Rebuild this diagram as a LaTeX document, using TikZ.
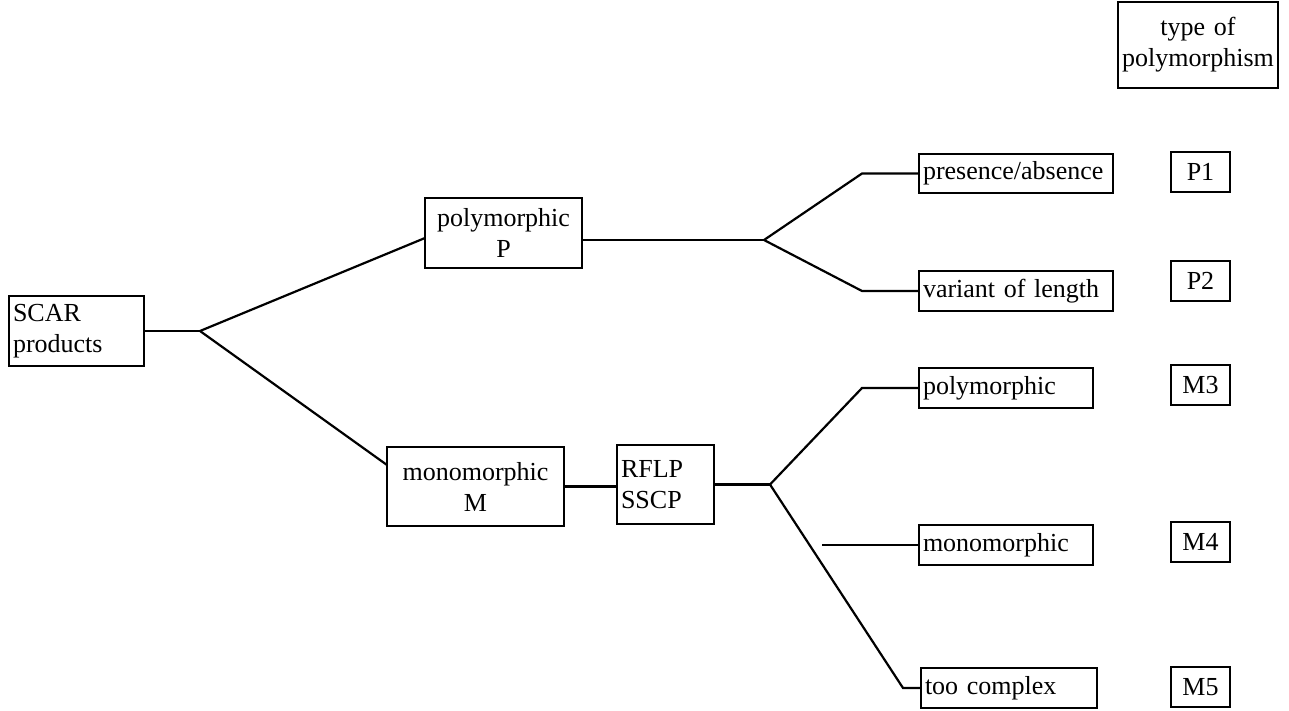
\documentclass[tikz,border=0pt]{standalone}
\usepackage{fontspec}
\setmainfont{Liberation Serif}
\begin{document}
\begin{tikzpicture}[x=1pt,y=-1pt,
  box/.style={draw, line width=1.5pt, inner xsep=4pt, inner ysep=0pt, font=\fontsize{26}{31}\selectfont},
  conn/.style={line width=2.2pt, line join=miter}]
\useasboundingbox (0,0) rectangle (1289,711);
% main boxes
\node[box, align=left, text width=127pt, minimum height=70pt] (scar) at (76.5,331) {SCAR\\products};
\node[box, align=center, text width=149pt, minimum height=70pt] (pP) at (503.5,233) {polymorphic\\P};
\node[box, align=center, text width=169pt, minimum height=79pt] (mM) at (475.5,486.5) {monomorphic\\M};
\node[box, align=left, text width=89pt, minimum height=79pt] (rs) at (665.5,484.5) {RFLP\\SSCP};
% leaves
\node[box, align=left, text width=186pt, minimum height=39pt] (pa) at (1016,173.5) {presence/absence};
\node[box, align=left, text width=186pt, minimum height=40pt] (vl) at (1016,291) {variant of length};
\node[box, align=left, text width=166pt, minimum height=40pt] (po) at (1006,388) {polymorphic};
\node[box, align=left, text width=166pt, minimum height=40pt] (mo) at (1006,545) {monomorphic};
\node[box, align=left, text width=168pt, minimum height=40pt] (tc) at (1009,688) {too complex};
% type labels
\node[box, align=center, text width=152pt, minimum height=86pt] (ty) at (1198,45) {type of\\polymorphism};
\node[box, align=center, text width=51pt, minimum height=40pt] (t1) at (1200.5,172) {P1};
\node[box, align=center, text width=51pt, minimum height=40pt] (t2) at (1200.5,281) {P2};
\node[box, align=center, text width=51pt, minimum height=40pt] (t3) at (1200.5,385) {M3};
\node[box, align=center, text width=51pt, minimum height=40pt] (t4) at (1200.5,542) {M4};
\node[box, align=center, text width=51pt, minimum height=40pt] (t5) at (1200.5,687) {M5};
% junctions
\coordinate (f1) at (200,331);
\coordinate (pin) at (425,238);
\coordinate (min) at (387,465);
\coordinate (f2) at (764,240);
\coordinate (b1) at (862,173.5);
\coordinate (b2) at (862,291);
\coordinate (f3) at (770,484.5);
\coordinate (b3) at (862,388);
\coordinate (b5) at (903,688);
\coordinate (m0) at (822,545);
% connectors
\draw[conn] (scar.east) -- (f1);
\draw[conn] (f1) -- (pin);
\draw[conn] (f1) -- (min);
\draw[conn] (pP.east |- f2) -- (f2);
\draw[conn] (f2) -- (b1) -- (pa.west);
\draw[conn] (f2) -- (b2) -- (vl.west);
\draw[conn] (mM.east) -- (mM.east -| rs.west);
\draw[conn] (rs.east) -- (f3);
\draw[conn] (f3) -- (b3) -- (po.west);
\draw[conn] (f3) -- (b5) -- (tc.west);
\draw[conn, line width=1.6pt] (m0) -- (mo.west);
\end{tikzpicture}
\end{document}
